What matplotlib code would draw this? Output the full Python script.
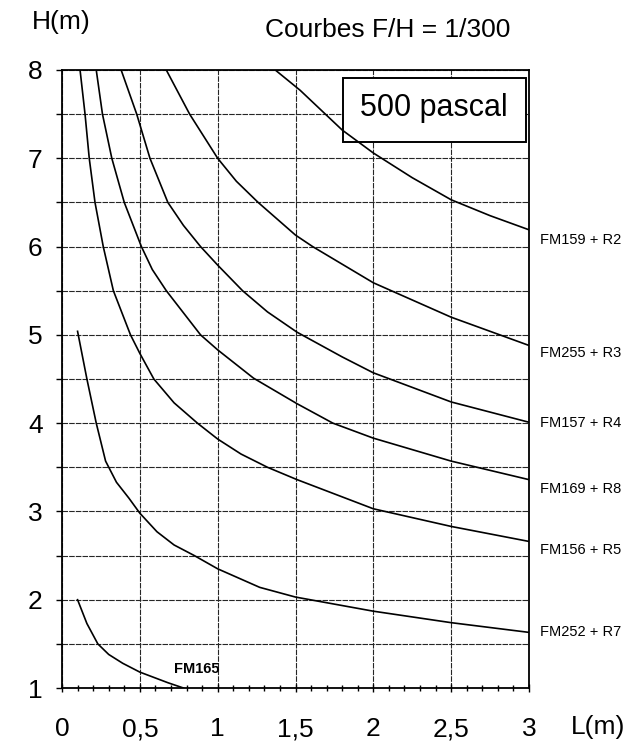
import matplotlib
matplotlib.use("Agg")
import matplotlib.pyplot as plt
from matplotlib.patches import Rectangle
from matplotlib.ticker import MultipleLocator

plt.rcParams["font.family"] = ["Liberation Sans", "DejaVu Sans"]

# curves (L in m, H in m)
fm159_x = [1.37, 1.53, 1.80, 2.00, 2.25, 2.50, 2.75, 3.00]
fm159_y = [8.00, 7.77, 7.32, 7.06, 6.78, 6.53, 6.35, 6.19]

fm255_x = [0.67, 0.82, 1.00, 1.12, 1.26, 1.50, 1.61, 2.00, 2.50, 3.00]
fm255_y = [8.00, 7.50, 7.00, 6.74, 6.50, 6.13, 6.00, 5.59, 5.20, 4.88]

fm157_x = [0.38, 0.48, 0.565, 0.68, 0.78, 0.89, 1.00, 1.16, 1.32, 1.51, 1.80, 2.00, 2.50, 3.00]
fm157_y = [8.00, 7.50, 7.00, 6.50, 6.24, 6.00, 5.79, 5.50, 5.26, 5.03, 4.75, 4.57, 4.24, 4.01]

fm169_x = [0.22, 0.26, 0.32, 0.40, 0.51, 0.58, 0.67, 0.89, 1.00, 1.23, 1.51, 1.74, 2.00, 2.50, 3.00]
fm169_y = [8.00, 7.50, 7.00, 6.50, 6.00, 5.74, 5.50, 5.00, 4.83, 4.51, 4.22, 4.00, 3.83, 3.57, 3.36]

fm156_x = [0.116, 0.148, 0.175, 0.212, 0.265, 0.33, 0.44, 0.50, 0.59, 0.72, 0.87, 1.00, 1.15, 1.32, 1.51, 2.00, 2.50, 3.00]
fm156_y = [8.00, 7.50, 7.00, 6.50, 6.00, 5.50, 5.00, 4.79, 4.50, 4.23, 4.00, 3.82, 3.65, 3.50, 3.36, 3.03, 2.83, 2.66]

fm252_x = [0.10, 0.16, 0.22, 0.28, 0.35, 0.43, 0.50, 0.61, 0.72, 0.85, 1.00, 1.27, 1.50, 2.00, 2.50, 3.00]
fm252_y = [5.04, 4.50, 4.00, 3.57, 3.33, 3.15, 2.98, 2.77, 2.62, 2.50, 2.35, 2.14, 2.03, 1.87, 1.74, 1.63]

fm165_x = [0.10, 0.16, 0.23, 0.30, 0.39, 0.50, 0.68, 0.78]
fm165_y = [2.00, 1.73, 1.50, 1.38, 1.28, 1.18, 1.06, 1.00]

curves = [(fm159_x, fm159_y), (fm255_x, fm255_y), (fm157_x, fm157_y),
          (fm169_x, fm169_y), (fm156_x, fm156_y), (fm252_x, fm252_y),
          (fm165_x, fm165_y)]

right_labels = ["FM159 + R2", "FM255 + R3", "FM157 + R4", "FM169 + R8",
                "FM156 + R5", "FM252 + R7"]
right_label_y = [6.08, 4.80, 4.00, 3.25, 2.56, 1.63]

x_ticks = [0, 0.5, 1, 1.5, 2, 2.5, 3]
x_tick_labels = ["0", "0,5", "1", "1,5", "2", "2,5", "3"]

fig = plt.figure(figsize=(6.27, 7.51), dpi=100)
ax = fig.add_axes([62 / 627, 1 - 688 / 751, 467 / 627, 618 / 751])

for xs, ys in curves:
    ax.plot(xs, ys, color="black", lw=1.2, zorder=4)

ax.set_xlim(0, 3)
ax.set_ylim(1, 8)

# grid every 0.5 in both directions
ax.xaxis.set_minor_locator(MultipleLocator(0.1))
ax.grid(True, which="major", color="0.15", lw=0.8, ls=(0, (5, 1)), zorder=1)

ax.set_xticks(x_ticks)
ax.set_xticklabels(x_tick_labels)
ax.set_yticks([v / 2 for v in range(2, 17)])
ax.set_yticklabels([str(v // 2) if v % 2 == 0 else "" for v in range(2, 17)])

ax.tick_params(axis="x", which="major", direction="inout", length=6, width=1,
               labelsize=19, pad=18)
ax.tick_params(axis="x", which="minor", direction="inout", length=5, width=1)
ax.tick_params(axis="y", which="major", direction="out", length=4, width=1,
               labelsize=19, pad=10)

for s in ax.spines.values():
    s.set_linewidth(1.3)
    s.set_color("black")

# pressure box
ax.add_patch(Rectangle((1.805, 7.18), 1.175, 0.73, facecolor="white",
                       edgecolor="black", lw=1.4, zorder=3))
ax.text(2.39, 7.57, "500 pascal", fontsize=22, ha="center", va="center",
        zorder=5)

ax.text(0.867, 1.22, "FM165", fontsize=10.5, fontweight="bold",
        ha="center", va="center", zorder=5)

for lab, yv in zip(right_labels, right_label_y):
    ax.text(3.07, yv, lab, fontsize=10.5, ha="left", va="center",
            clip_on=False)

fig.text(388 / 627, 1 - 30 / 751, "Courbes F/H = 1/300", fontsize=19,
         ha="center", va="center")
fig.text(61 / 627, 1 - 22 / 751, "H(m)", fontsize=19, ha="center", va="center")
fig.text(598 / 627, 1 - 727 / 751, "L(m)", fontsize=19, ha="center", va="center")

fig.savefig("out.png", dpi=100)
